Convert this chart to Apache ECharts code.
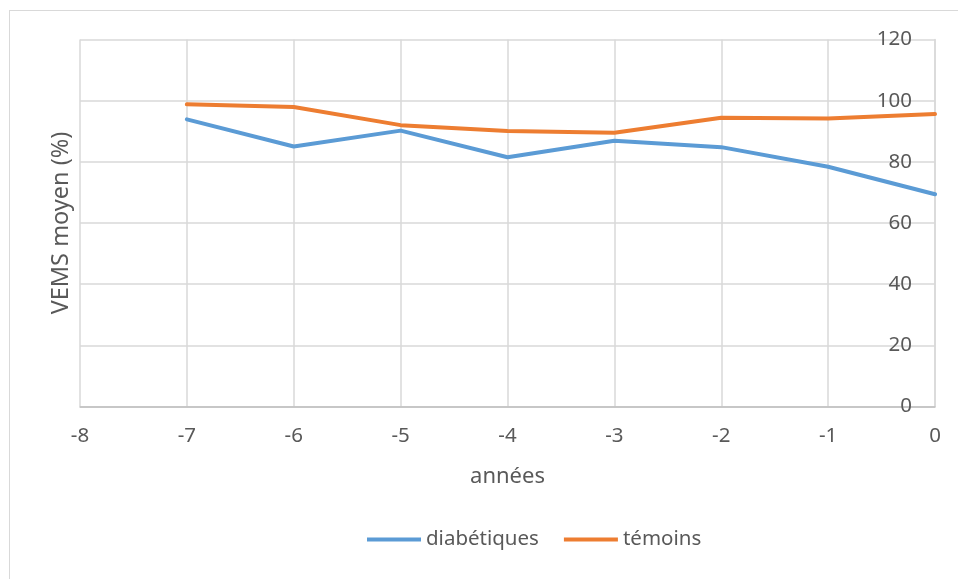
<!DOCTYPE html>
<html>
<head>
  <meta charset="UTF-8">
  <script src="https://cdn.jsdelivr.net/npm/echarts@6/dist/echarts.min.js"></script>
  <style>
    body { margin: 0; background: #fff; }
    #frame { position: absolute; left: 9px; top: 10px; width: 960px; height: 580px; border: 1px solid #d9d9d9; }
    #main { position: absolute; left: 0; top: 0; width: 958px; height: 579px; }
  </style>
</head>
<body>
  <div id="frame"></div>
  <div id="main"></div>
  <script>
    // données
    var annees = [-7, -6, -5, -4, -3, -2, -1, 0];
    var diabetiques = [93.9, 85.0, 90.2, 81.5, 86.9, 84.8, 78.4, 69.4];
    var temoins = [98.8, 97.9, 92.0, 90.1, 89.5, 94.4, 94.2, 95.6];

    function pairs(xs, ys) {
      return xs.map(function (x, i) { return [x, ys[i]]; });
    }

    var txt = '#595959';
    var font = 'Noto Sans';
    var chart = echarts.init(document.getElementById('main'));

    chart.setOption({
      animation: false,
      textStyle: { fontFamily: font },
      grid: { left: 80, right: 23, top: 39.5, bottom: 172.5 },
      legend: {
        top: 524,
        left: 362,
        itemWidth: 54,
        itemHeight: 4,
        itemGap: 25,
        icon: 'rect',
        textStyle: { color: txt, fontSize: 20.5, fontFamily: font },
        data: ['diabétiques', 'témoins']
      },
      xAxis: {
        type: 'value',
        min: -8, max: 0, interval: 1,
        name: 'années',
        nameLocation: 'middle',
        nameGap: 59,
        nameTextStyle: { color: txt, fontSize: 22 },
        axisLine: { show: true, onZero: false, lineStyle: { color: '#bfbfbf', width: 1.5 } },
        axisTick: { show: false },
        axisLabel: { color: txt, fontSize: 20.5, margin: 19 },
        splitLine: { show: true, lineStyle: { color: '#d9d9d9', width: 1.5 } }
      },
      yAxis: [{
        type: 'value',
        position: 'right',
        min: 0, max: 120, interval: 20,
        axisLine: { show: true, lineStyle: { color: '#d9d9d9', width: 1.5 } },
        axisTick: { show: false },
        axisLabel: { inside: true, color: txt, fontSize: 20.5, margin: 23 },
        splitLine: { show: true, lineStyle: { color: '#d9d9d9', width: 1.5 } }
      }, {
        type: 'value',
        position: 'left',
        min: 0, max: 120, interval: 20,
        name: 'VEMS moyen (%)',
        nameLocation: 'middle',
        nameGap: 7,
        nameTextStyle: { color: txt, fontSize: 23.5 },
        axisLine: { show: false },
        axisTick: { show: false },
        axisLabel: { show: false },
        splitLine: { show: false }
      }],
      series: [{
        name: 'diabétiques',
        type: 'line',
        data: pairs(annees, diabetiques),
        symbol: 'none',
        color: '#5B9BD5',
        lineStyle: { width: 4, cap: 'round' }
      }, {
        name: 'témoins',
        type: 'line',
        data: pairs(annees, temoins),
        symbol: 'none',
        color: '#ED7D31',
        lineStyle: { width: 4, cap: 'round' }
      }]
    });
  </script>
</body>
</html>
